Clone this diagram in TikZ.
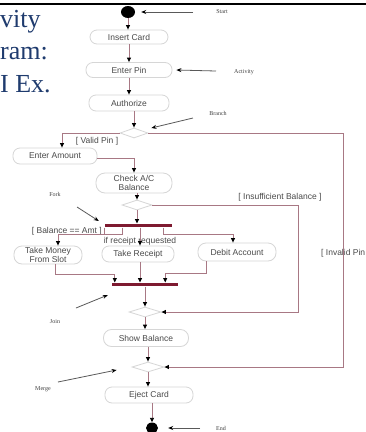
\documentclass[tikz,border=0pt]{standalone}
\usepackage{fontspec}
\setmainfont{Liberation Serif}
\setsansfont{Liberation Sans}
\usetikzlibrary{arrows.meta,shapes.geometric,calc}
\definecolor{flowc}{HTML}{A87884}
\definecolor{barc}{HTML}{7E1A30}
\definecolor{titlec}{HTML}{1F3B6E}
\definecolor{nodeline}{HTML}{D6D6D6}
\definecolor{txtc}{HTML}{4A4A4A}
\begin{document}
\begin{tikzpicture}[x=1pt,y=-1pt,
 act/.style={draw=nodeline,line width=0.8pt,fill=white,rounded corners=7pt,inner sep=0pt,align=center,text=txtc,font=\sffamily\fontsize{8.5}{9}\selectfont},
 dec/.style={diamond,draw=nodeline,line width=0.8pt,fill=white,inner sep=0pt,minimum width=30pt,minimum height=10pt},
 bar/.style={rectangle,fill=barc,inner sep=0pt,minimum height=3.6pt},
 dot/.style={ellipse,fill=black,inner sep=0pt,minimum width=14pt,minimum height=12pt},
 guard/.style={text=txtc,font=\sffamily\fontsize{8.5}{9}\selectfont,inner sep=0pt},
 note/.style={text=black!75,font=\rmfamily\fontsize{6}{7}\selectfont,inner sep=0pt},
 flow/.style={draw=flowc,line width=0.9pt,-{Triangle[length=4.5pt,width=4pt,color=black]}},
 flowline/.style={draw=flowc,line width=0.9pt},
 annot/.style={draw=black!65,line width=0.8pt,-{Stealth[length=5pt,width=4pt,color=black]}},
 ttl/.style={anchor=base west,inner sep=0pt,text=titlec,font=\rmfamily\fontsize{26}{30}\selectfont}
]
\useasboundingbox (0,0) rectangle (366,432);
\fill[white] (0,0) rectangle (366,432);
\draw[line width=2.5pt] (0,4.2) -- (366,4.2);

\node[ttl] (t1) at (0,27) {vity};
\node[ttl] (t2) at (0,59) {ram:};
\node[ttl] (t3) at (0,92) {I Ex.};

% activity nodes
\node[dot] (start) at (128,12) {};
\node[act,minimum width=78pt,minimum height=14pt] (insert) at (129,37) {Insert Card};
\node[act,minimum width=86pt,minimum height=15pt] (enterpin) at (129,70) {Enter Pin};
\node[act,minimum width=80pt,minimum height=16pt] (authorize) at (129,103) {Authorize};
\node[dec,minimum width=28pt] (d1) at (134,133) {};
\node[act,minimum width=84pt,minimum height=16pt] (amount) at (55,156) {Enter Amount};
\node[act,minimum width=76pt,minimum height=20pt,rounded corners=9pt] (check) at (134,183) {Check A/C\\Balance};
\node[dec] (d2) at (137,205) {};
\node[bar,minimum width=67pt] (fork) at (138.5,225.5) {};
\node[act,minimum width=68pt,minimum height=18pt,rounded corners=8pt] (money) at (48,255) {Take Money\\From Slot};
\node[act,minimum width=72pt,minimum height=16pt] (receipt) at (138,254) {Take Receipt};
\node[act,minimum width=78pt,minimum height=18pt,rounded corners=8pt] (debit) at (237,252) {Debit Account};
\node[bar,minimum width=66pt] (join) at (145,284.5) {};
\node[dec,minimum width=32pt] (d3) at (145,312) {};
\node[act,minimum width=85pt,minimum height=17pt,rounded corners=8pt] (show) at (146,338) {Show Balance};
\node[dec,minimum width=32pt] (d4) at (148,367) {};
\node[act,minimum width=88pt,minimum height=16pt] (eject) at (149,395) {Eject Card};
\node[dot,minimum width=12pt,minimum height=11pt] (stop) at (152,428) {};

% guards
\node[guard] (gValid) at (97,141) {[ Valid Pin ]};
\node[guard] (gInsuf) at (280,197) {[ Insufficient Balance ]};
\node[guard,anchor=east] (gBal) at (102,231) {[ Balance == Amt ]};
\node[guard] (gRec) at (140,241) {if receipt requested};
\node[guard,anchor=west] (gInv) at (321,253) {[ Invalid Pin};

% notes
\node[note] (nStart) at (222,12) {Start};
\node[note] (nAct) at (244,72) {Activity};
\node[note] (nBranch) at (218,113) {Branch};
\node[note] (nFork) at (55,194) {Fork};
\node[note] (nJoin) at (55,322) {Join};
\node[note] (nMerge) at (43,389) {Merge};
\node[note] (nEnd) at (221,428) {End};

\coordinate (aStart) at (193,12);
\coordinate (aAct) at (216,71);
\coordinate (aBranch) at (193,118);
\coordinate (aFork) at (77,207);
\coordinate (aJoin) at (76,308);
\coordinate (aMerge) at (58,382);
\coordinate (aEnd) at (200,428);
\draw[annot] (aStart) -- ([xshift=6pt]start.east);
\draw[annot] (aAct) -- ([xshift=4pt]enterpin.east);
\draw[annot] (aBranch) -- ($(d1.east)+(3,-5)$);
\draw[annot] (aFork) -- ($(fork.west)+(-6,-4.5)$);
\draw[annot] (aJoin) -- ($(join.west)+(-4,10.5)$);
\draw[annot] (aMerge) -- ($(d4.west)+(-15,3)$);
\draw[annot] (aEnd) -- ([xshift=10pt]stop.east);

% main flow
\draw[flow] (start) -- (start |- insert.north);
\draw[flow] (insert) -- (enterpin);
\draw[flow] (enterpin) -- (authorize);
\draw[flow] (d1 |- authorize.south) -- (d1.north);
\draw[flow] (d1.west) -| ($(amount.north)+(7,0)$);
\draw[flow] ($(amount.east)+(0,2)$) -| (check.north);
\draw[flow] (d2 |- check.south) -- (d2.north);
\draw[flow] (d2.south) -- (d2 |- fork.north);
\draw[flow] (d2.east) -| ($(d3.east)+(137,0)$) -- (d3.east);
\draw[flow] (d1.east) -| ($(d4.east)+(179,0)$) -- (d4.east);

% fork outputs
\draw[flowline] (fork.south west) -- ++(0,7);
\draw[flow] ($(fork.south west)+(18,0)$) -- ++(0,7) -| ($(money.north)+(10,0)$);
\draw[flow] ($(fork.south)+(1.5,0)$) -- ($(receipt.north)+(2,0)$);
\draw[flow] ($(fork.south east)+(-9,0)$) -- ++(0,7) -| ($(debit.north)+(-4,0)$);

% join inputs
\draw[flow] ($(money.south)+(7,0)$) -- ++(0,10) -| ($(join.north west)+(3,0)$);
\draw[flow] ($(receipt.south)+(2,0)$) -- ($(join.north)+(-5,0)$);
\draw[flow] ($(debit.south)+(-31,0)$) -- ++(0,12) -| ($(join.north east)+(-13,0)$);

\draw[flow] (join) -- (d3);
\draw[flow] (d3.south) -- (d3.south |- show.north);
\draw[flow] (d4 |- show.south) -- (d4.north);
\draw[flow] (d4.south) -- (d4.south |- eject.north);
\draw[flow] (stop |- eject.south) -- (stop.north);
\end{tikzpicture}
\end{document}
